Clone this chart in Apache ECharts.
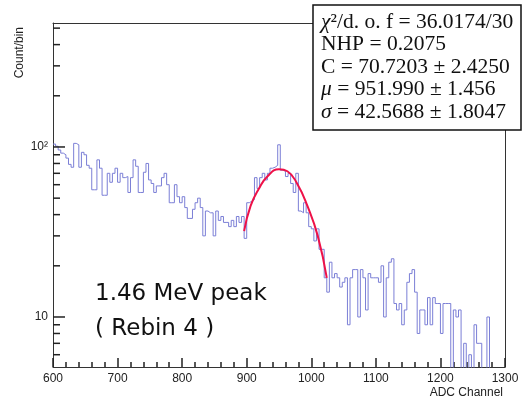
<!DOCTYPE html>
<html>
<head>
<meta charset="utf-8">
<title>1.46 MeV peak</title>
<script src="https://cdn.jsdelivr.net/npm/echarts@6/dist/echarts.min.js"></script>
<style>
  html, body { margin: 0; padding: 0; background: #fff; }
  #chart { width: 522px; height: 401px; }
</style>
</head>
<body>
<div id="chart"></div>
<script>
// histogram after Rebin 4: bins of 4 ADC channels starting at 600
var binStart = 600
var binWidth = 4
var counts = [
  104, 101, 96, 92, 90, 86, 79, 76, 105, 103,
  76, 93, 90, 78, 75, 56, 56, 84, 75, 52,
  52, 70, 62, 70, 75, 62, 70, 66, 67, 54,
  66, 84, 77, 54, 54, 71, 80, 64, 61, 54,
  59, 59, 66, 70, 60, 47, 47, 60, 51, 47,
  51, 44, 38, 38, 43, 47, 50, 44, 30, 42,
  41, 41, 30, 42, 37, 39, 36, 36, 34, 37,
  34, 39, 36, 39, 29, 47, 48, 49, 66, 57,
  66, 70, 64, 70, 75, 76, 78, 103, 73, 72,
  67, 70, 61, 54, 70, 42, 41, 47, 41, 34,
  33, 28, 33, 25, 25, 17, 14, 21, 17, 18,
  17, 15, 16, 17, 9, 17, 19, 19, 10, 19,
  17, 11, 18, 17, 17, 17, 16, 20, 10, 17,
  21, 22, 12, 11, 12, 9, 11, 16, 18, 19,
  14, 8, 11, 11, 9, 13, 9, 13, 12, 12,
  8, 12, 12, 12, 0, 11, 10, 11, 0, 7,
  0, 6, 0, 9, 7, 7, 0, 0, 10, 0,
  0, 0, 0, 0, 0
]

// gaussian fit curve (red)
var fitChannel = [896, 906, 919, 932, 950, 963, 978, 994, 1010, 1024]
var fitValue = [32, 45, 57, 67, 74, 72, 61, 45, 30, 17]

// axes
var xMin = 600
var xMax = 1300
var xMajorStep = 100
var yMin = 5.08
var yMax = 536
var yMajorTicks = [10, 100]
var yMajorLabels = ['10', '10²']
var yMinorTicks = [6, 7, 8, 9, 20, 30, 40, 50, 60, 70, 80, 90, 200, 300, 400, 500]

var statsLines = [
  '{i|χ}²/d. o. f = 36.0174/30',
  'NHP = 0.2075',
  'C = 70.7203 ± 2.4250',
  '{i|μ} = 951.990 ± 1.456',
  '{i|σ} = 42.5688 ± 1.8047'
]

var gridBox = { left: 53, top: 23, right: 17, bottom: 34 }
var plotW = 522 - gridBox.left - gridBox.right

var histData = []
for (var i = 0; i < counts.length; i++) {
  // empty bins go to the bottom of the frame on a log scale
  histData.push([binStart + i * binWidth, counts[i] > 0 ? counts[i] : yMin / 2])
}
histData.push([binStart + counts.length * binWidth, histData[histData.length - 1][1]])

var fitData = fitChannel.map(function(x, k) { return [x, fitValue[k]] })

// inside ticks on the log y axis, as short two-point line series
function yTick(v, lenPx) {
  return {
    type: 'line',
    data: [[xMin, v], [xMin + lenPx * (xMax - xMin) / plotW, v]],
    symbol: 'none',
    silent: true,
    clip: false,
    lineStyle: { color: '#222', width: 1.5 },
    z: 5
  }
}
var yTickSeries = yMajorTicks.map(function(v) { return yTick(v, 12) })
  .concat(yMinorTicks.map(function(v) { return yTick(v, 7) }))

var chart = echarts.init(document.getElementById('chart'))

var statsGraphics = [{
  type: 'rect',
  shape: { x: 313, y: 5, width: 208, height: 125 },
  style: { fill: '#fff', stroke: '#111', lineWidth: 1.5 },
  z: 100
}]
statsLines.forEach(function(t, k) {
  statsGraphics.push({
    type: 'text',
    x: 321,
    y: 22 + k * 22.5,
    z: 101,
    style: {
      text: t,
      font: '21.5px "Liberation Serif"',
      fill: '#111',
      verticalAlign: 'middle',
      rich: { i: { fontStyle: 'italic', font: 'italic 21.5px "Liberation Serif"' } }
    }
  })
})

var textGraphics = [
  {
    type: 'text',
    x: 20,
    y: 27,
    rotation: Math.PI / 2,
    style: { text: 'Count/bin', font: '12px "Liberation Sans"', fill: '#222', align: 'right', verticalAlign: 'middle' }
  },
  {
    type: 'text',
    x: 503,
    y: 393,
    style: { text: 'ADC Channel', font: '12px "Liberation Sans"', fill: '#222', align: 'right', verticalAlign: 'middle' }
  },
  {
    type: 'text',
    x: 95,
    y: 294,
    style: { text: '1.46 MeV peak', font: '23px "DejaVu Sans"', fill: '#111', verticalAlign: 'middle' }
  },
  {
    type: 'text',
    x: 95,
    y: 329,
    style: { text: '( Rebin 4 )', font: '23px "DejaVu Sans"', fill: '#111', verticalAlign: 'middle' }
  }
]

var frameLine = { show: true, onZero: false, lineStyle: { color: '#333', width: 1 } }

chart.setOption({
  animation: false,
  backgroundColor: '#fff',
  grid: {
    left: gridBox.left,
    top: gridBox.top,
    right: gridBox.right,
    bottom: gridBox.bottom,
    show: false
  },
  xAxis: [
    {
      type: 'value',
      position: 'bottom',
      min: xMin,
      max: xMax,
      interval: xMajorStep,
      axisLine: frameLine,
      axisTick: { show: true, inside: true, length: 9, lineStyle: { color: '#222', width: 1.5 } },
      minorTick: { show: true, splitNumber: 5, length: 5, lineStyle: { color: '#222', width: 1.5 } },
      splitLine: { show: false },
      minorSplitLine: { show: false },
      axisLabel: {
        margin: 6,
        color: '#222',
        fontSize: 12,
        fontFamily: 'Liberation Sans',
        formatter: function(v) { return String(v) }
      }
    },
    {
      // top frame edge
      type: 'value',
      position: 'top',
      min: xMin,
      max: xMax,
      axisLine: frameLine,
      axisTick: { show: false },
      axisLabel: { show: false },
      splitLine: { show: false }
    }
  ],
  yAxis: [
    {
      type: 'log',
      logBase: 10,
      position: 'left',
      min: yMin,
      max: yMax,
      axisLine: frameLine,
      axisTick: { show: false },
      splitLine: { show: false },
      axisLabel: {
        margin: 5,
        color: '#222',
        fontSize: 12,
        fontFamily: 'Liberation Sans',
        formatter: function(v) {
          for (var k = 0; k < yMajorTicks.length; k++) {
            if (Math.abs(v - yMajorTicks[k]) < 1e-6 * yMajorTicks[k]) return yMajorLabels[k]
          }
          return ''
        }
      }
    },
    {
      // right frame edge
      type: 'log',
      logBase: 10,
      position: 'right',
      min: yMin,
      max: yMax,
      axisLine: frameLine,
      axisTick: { show: false },
      axisLabel: { show: false },
      splitLine: { show: false }
    }
  ],
  series: [
    {
      name: 'hist',
      type: 'line',
      step: 'end',
      data: histData,
      symbol: 'none',
      clip: true,
      lineStyle: { color: '#7b7fd6', width: 1 },
      z: 2
    },
    {
      name: 'fit',
      type: 'line',
      smooth: 0.5,
      data: fitData,
      symbol: 'none',
      lineStyle: { color: '#ee1148', width: 2 },
      z: 3
    }
  ].concat(yTickSeries),
  graphic: textGraphics.concat(statsGraphics)
})
</script>
</body>
</html>
